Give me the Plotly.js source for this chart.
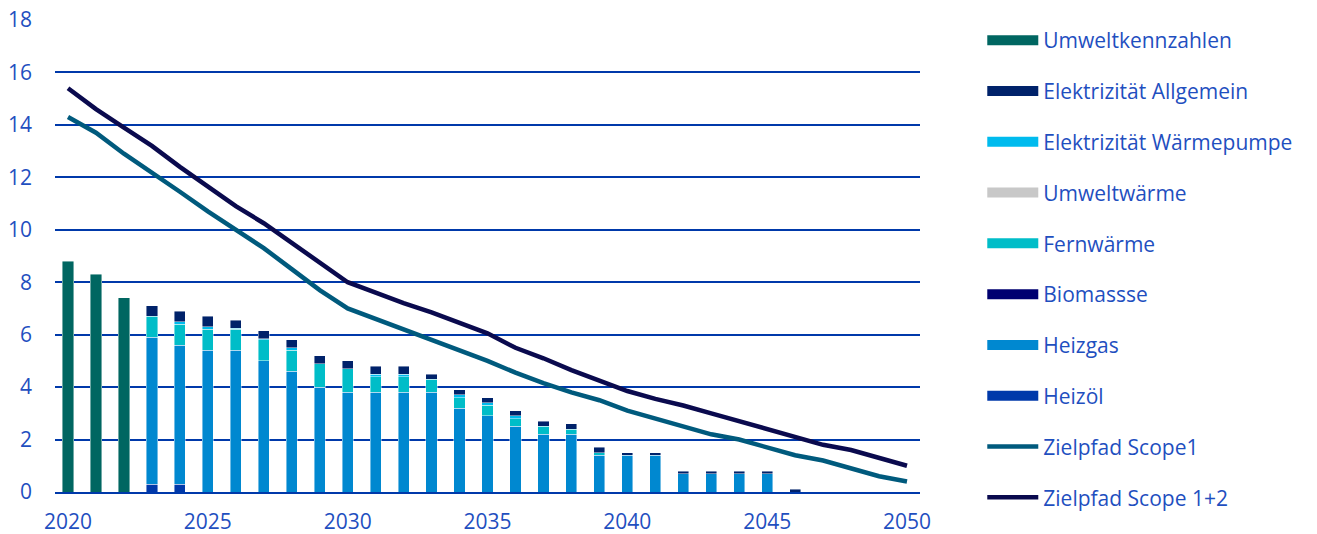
<!DOCTYPE html>
<html>
<head>
<meta charset="utf-8">
<script src="https://cdn.plot.ly/plotly-3.0.1.min.js"></script>
<style>html,body{margin:0;padding:0;background:#fff;}#chart{width:1317px;height:534px;}</style>
</head>
<body>
<div id="chart"></div>
<script>
const years = [2020,2021,2022,2023,2024,2025,2026,2027,2028,2029,2030,2031,2032,2033,2034,2035,2036,2037,2038,2039,2040,2041,2042,2043,2044,2045,2046,2047,2048,2049,2050];

const umweltkennzahlen = [8.8,8.3,7.4,null,null,null,null,null,null,null,null,null,null,null,null,null,null,null,null,null,null,null,null,null,null,null,null,null,null,null,null];
const heizoel = [null,null,null,0.3,0.3,null,null,null,null,null,null,null,null,null,null,null,null,null,null,null,null,null,null,null,null,null,null,null,null,null,null];
const heizgas = [null,null,null,5.6,5.3,5.4,5.4,5.0,4.6,4.0,3.8,3.8,3.8,3.8,3.2,2.9,2.5,2.2,2.2,1.4,1.4,1.4,0.7,0.7,0.7,0.7,null,null,null,null,null];
const biomasse = [null,null,null,null,null,null,null,null,null,null,null,null,null,null,null,null,null,null,null,null,null,null,null,null,null,null,null,null,null,null,null];
const fernwaerme = [null,null,null,0.8,0.8,0.8,0.8,0.8,0.8,0.9,0.9,0.6,0.6,0.5,0.4,0.4,0.3,0.3,0.2,0.1,null,null,null,null,null,null,null,null,null,null,null];
const umweltwaerme = [null,null,null,null,null,null,null,null,null,null,null,null,null,null,null,null,null,null,null,null,null,null,null,null,null,null,null,null,null,null,null];
const elekWP = [null,null,null,null,0.1,0.1,0.05,0.05,0.1,null,null,0.1,0.1,null,0.1,0.1,0.1,null,null,null,null,null,null,null,null,null,null,null,null,null,null];
const elekAllg = [null,null,null,0.4,0.4,0.4,0.3,0.3,0.3,0.3,0.3,0.3,0.3,0.2,0.2,0.2,0.2,0.2,0.2,0.2,0.1,0.1,0.1,0.1,0.1,0.1,0.1,null,null,null,null];

const scope1 = [14.3,13.7,12.9,12.2,11.45,10.7,10.0,9.3,8.5,7.7,7.0,6.6,6.2,5.8,5.4,5.0,4.55,4.15,3.8,3.5,3.1,2.8,2.5,2.2,2.0,1.7,1.4,1.2,0.9,0.6,0.4];
const scope12 = [15.4,14.6,13.9,13.2,12.4,11.65,10.9,10.25,9.5,8.7,8.0,7.6,7.2,6.85,6.45,6.05,5.5,5.1,4.65,4.25,3.85,3.55,3.3,3.0,2.7,2.4,2.1,1.8,1.6,1.3,1.0];

const names = ["Umweltkennzahlen","Elektrizität Allgemein","Elektrizität Wärmepumpe","Umweltwärme","Fernwärme","Biomassse","Heizgas","Heizöl","Zielpfad Scope1","Zielpfad Scope 1+2"];
const colors = ["#006661","#00226a","#00bbee","#c8c8c8","#00bdc8","#000070","#0088d0","#0039aa","#005a7d","#0a0a4e"];

const barSeries = [
  {y: heizoel, i: 7},
  {y: heizgas, i: 6},
  {y: biomasse, i: 5},
  {y: fernwaerme, i: 4},
  {y: umweltwaerme, i: 3},
  {y: elekWP, i: 2},
  {y: elekAllg, i: 1},
  {y: umweltkennzahlen, i: 0}
];

const traces = [];
barSeries.forEach(s => {
  traces.push({
    type: 'bar', x: years, y: s.y, name: names[s.i], showlegend: false,
    legendgroup: 'g' + s.i, width: 0.4,
    marker: {color: colors[s.i], line: {color: 'rgba(255,255,255,0.55)', width: 0.8}}
  });
});
// legend entries for bar series (wide swatches)
for (let i = 0; i < 8; i++) {
  traces.push({
    type: 'scatter', mode: 'lines', x: [null], y: [null], name: names[i],
    legendgroup: 'g' + i, legendrank: i + 1,
    line: {color: colors[i], width: 13}
  });
}
traces.push({type: 'scatter', mode: 'lines', x: years, y: scope1, name: names[8], legendgroup: 'g8', legendrank: 9,
  line: {color: colors[8], width: 4.5}});
traces.push({type: 'scatter', mode: 'lines', x: years, y: scope12, name: names[9], legendgroup: 'g9', legendrank: 10,
  line: {color: colors[9], width: 4.5}});

const txt = '#1f4fbf';
const layout = {
  width: 1317, height: 534,
  margin: {l: 55, r: 397, t: 20, b: 42},
  paper_bgcolor: '#fff', plot_bgcolor: '#fff',
  font: {family: 'Open Sans, sans-serif', size: 21, color: txt},
  barmode: 'stack',
  showlegend: true,
  legend: {x: 1.072, xanchor: 'left', y: 1.0, yanchor: 'top', traceorder: 'grouped', maxheight: 1000,
    itemwidth: 51, tracegroupgap: 20.5, font: {size: 21, color: txt}, bgcolor: 'rgba(0,0,0,0)'},
  xaxis: {range: [2019.535, 2050.465], tickvals: [2020,2025,2030,2035,2040,2045,2050], showgrid: false,
    zeroline: false, showline: true, linecolor: '#0039aa', linewidth: 2, ticks: '', ticklabelstandoff: 10,
    tickfont: {size: 21, color: txt}},
  yaxis: {range: [0, 18], dtick: 2, showgrid: true, gridcolor: '#0039aa', gridwidth: 2, zeroline: false,
    showline: false, ticks: '', ticklabelstandoff: 22, tickfont: {size: 21, color: txt}}
};

Plotly.newPlot('chart', traces, layout, {displayModeBar: false, staticPlot: true});
</script>
</body>
</html>
